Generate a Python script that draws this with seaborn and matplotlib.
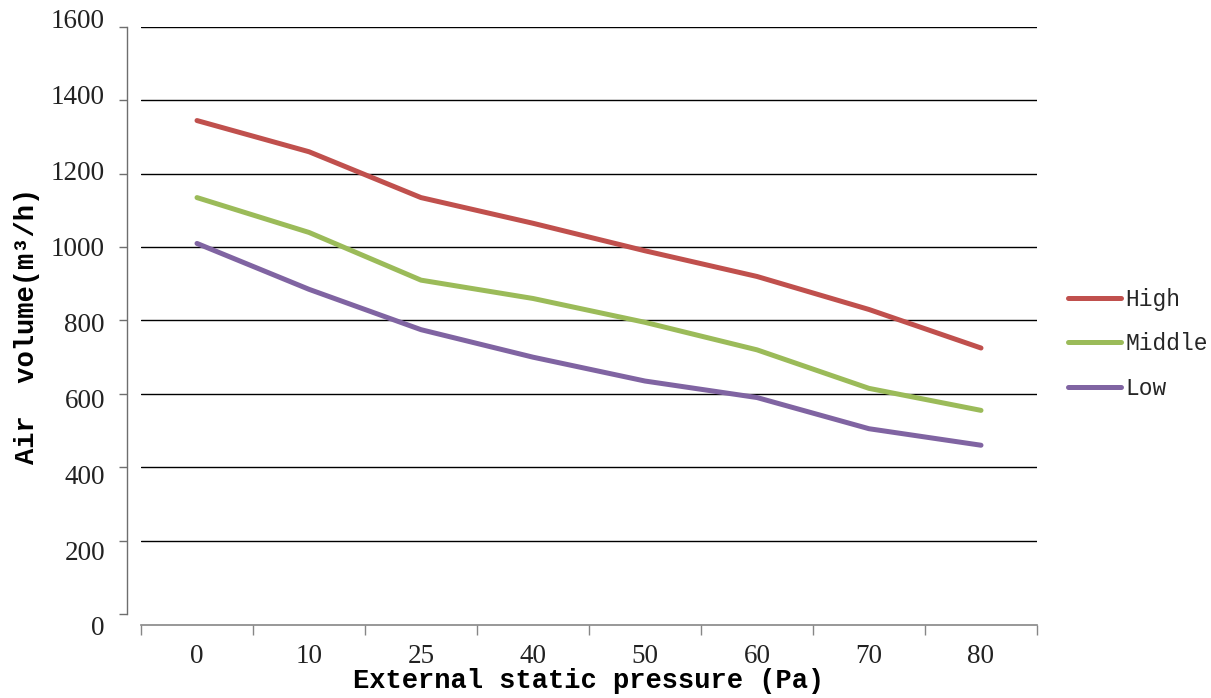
import matplotlib
matplotlib.use("Agg")
import matplotlib.pyplot as plt
import matplotlib.transforms as mtransforms
import seaborn as sns
import pandas as pd

# Air volume vs. external static pressure for three fan speeds
pressure = ["0", "10", "25", "40", "50", "60", "70", "80"]
high = [1345, 1260, 1135, 1065, 990, 920, 830, 725]
middle = [1135, 1040, 910, 860, 795, 720, 615, 555]
low = [1010, 885, 775, 700, 635, 590, 505, 460]
series_names = ["High", "Middle", "Low"]
y_ticks = [0, 200, 400, 600, 800, 1000, 1200, 1400, 1600]

df = pd.DataFrame({
    "pressure": pressure * 3,
    "volume": high + middle + low,
    "speed": [series_names[0]] * 8 + [series_names[1]] * 8 + [series_names[2]] * 8,
})

sns.set_theme(style="white")
plt.rcParams["font.family"] = ["Liberation Serif", "DejaVu Serif"]

fig = plt.figure(figsize=(12.11, 6.98), dpi=100)
ax = fig.add_axes([141 / 1211, 1 - 625 / 698, 896 / 1211, 598 / 698])

palette = {"High": "#C0504D", "Middle": "#9BBB59", "Low": "#8064A2"}
sns.lineplot(data=df, x="pressure", y="volume", hue="speed", palette=palette,
             linewidth=3.6, ax=ax, sort=False)
for ln in ax.lines:
    ln.set_solid_capstyle("round")
    ln.set_solid_joinstyle("round")

ax.set_xlim(-0.5, 7.5)
ax.set_ylim(-30, 1600)

# horizontal gridlines (none at zero)
for v in y_ticks[1:]:
    ax.axhline(v, color="black", linewidth=1.0, zorder=0)

# y axis detached to the left
ax.spines["top"].set_visible(False)
ax.spines["right"].set_visible(False)
ax.spines["left"].set_position(("outward", 10))
ax.spines["left"].set_bounds(0, 1600)
ax.spines["left"].set_color("#6e6e6e")
ax.spines["left"].set_linewidth(1.0)
ax.spines["bottom"].set_color("#868686")
ax.spines["bottom"].set_linewidth(1.2)

ax.set_yticks(y_ticks)
ax.set_yticklabels([str(v) for v in y_ticks], fontsize=19.5, color="#222222")
ax.tick_params(axis="y", direction="out", length=6, width=1, color="#6e6e6e",
               left=True, pad=10)
# value labels are spread slightly wider than the tick marks
for k, lab in enumerate(ax.get_yticklabels()):
    dy = (-12 + 2.5 * k) / 100.0
    lab.set_transform(lab.get_transform() +
                      mtransforms.ScaledTranslation(0, dy, fig.dpi_scale_trans))

# categorical x axis: labels at centres, ticks at boundaries
ax.set_xticks(range(len(pressure)))
ax.set_xticklabels(pressure, fontsize=19.5, color="#222222")
ax.tick_params(axis="x", which="major", length=0, pad=14)
ax.set_xticks([i - 0.5 for i in range(len(pressure) + 1)], minor=True)
ax.tick_params(axis="x", which="minor", direction="out", length=7, width=1,
               color="#868686", bottom=True)

mono = ["Liberation Mono", "DejaVu Sans Mono"]
ax.set_xlabel("External static pressure (Pa)", fontsize=19.5, family=mono,
              fontweight="bold", color="black", labelpad=-1)
ax.set_ylabel("Air  volume(m³/h)", fontsize=19.5, family=mono,
              fontweight="bold", color="black", labelpad=8)

handles, labels = ax.get_legend_handles_labels()
leg = ax.legend(handles, labels, loc="center left", bbox_to_anchor=(1.012, 0.47),
                frameon=False, prop={"family": mono, "size": 16.5},
                handlelength=2.3, handletextpad=0.2, labelspacing=0.95)
for h in leg.get_lines():
    h.set_linewidth(3.6)
    h.set_solid_capstyle("round")

fig.savefig("out.png", dpi=100)
